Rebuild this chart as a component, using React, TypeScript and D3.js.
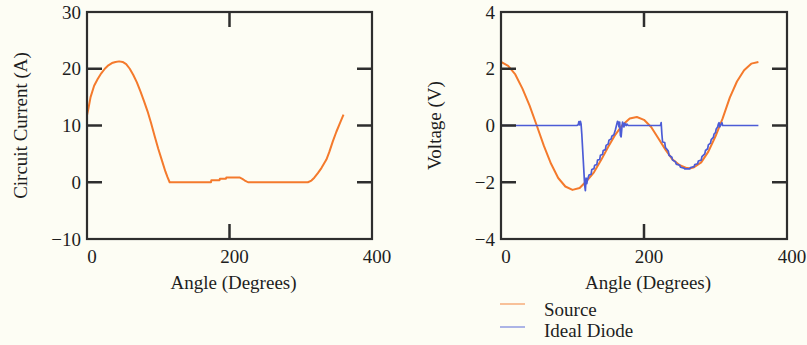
import React from "react";
import * as d3 from "d3";

// ---------- data ----------
const angleTicks = [0, 200, 400];
const currentTicks = [-10, 0, 10, 20, 30];
const voltageTicks = [-4, -2, 0, 2, 4];

const currentAngles = [0, 2, 5, 10, 15, 20, 25, 30, 35, 40, 45, 50, 55, 60, 65, 70, 75, 80, 85, 90, 95, 100, 105, 110, 113, 116, 174, 174.5, 186, 186.5, 195, 195.5, 214, 218, 221, 226, 310, 315, 319, 324, 329, 336, 340, 345, 350, 355, 360];
const currentValues = [11.8, 13, 15, 17, 18.2, 19.2, 20, 20.6, 21, 21.2, 21.3, 21.2, 20.8, 20, 18.9, 17.6, 16, 14.3, 12.5, 10.4, 8.1, 5.9, 3.9, 1.9, 0.9, 0, 0, 0.35, 0.35, 0.6, 0.6, 0.85, 0.85, 0.6, 0.35, 0, 0, 0.3, 0.8, 1.6, 2.5, 4, 5.3, 7.2, 8.9, 10.4, 11.9];

const sourceAngles = [0, 10, 20, 30, 40, 50, 60, 70, 80, 90, 100, 110, 120, 130, 140, 150, 160, 170, 180, 190, 200, 210, 220, 230, 240, 250, 260, 265, 270, 280, 290, 300, 310, 320, 330, 340, 350, 360];
const sourceValues = [2.24, 2.1, 1.8, 1.3, 0.7, 0.0, -0.72, -1.35, -1.85, -2.15, -2.27, -2.2, -1.95, -1.65, -1.22, -0.75, -0.32, 0.02, 0.25, 0.3, 0.2, -0.05, -0.45, -0.85, -1.2, -1.4, -1.5, -1.51, -1.47, -1.3, -0.92, -0.38, 0.25, 0.98, 1.55, 1.95, 2.18, 2.24];

const diodeAngles = [0, 106, 108, 109, 110, 111, 112, 113, 115, 117, 118, 119, 120, 121, 123, 126, 127, 130, 131, 134, 135, 138, 139, 142, 143, 146, 147, 150, 151, 154, 155, 158, 160, 162, 163, 164, 165, 166, 167, 168, 169, 170, 171, 172, 173, 175, 176, 178, 223, 224, 225, 226, 229, 230, 234, 235, 239, 240, 244, 245, 250, 251, 256, 257, 264, 265, 270, 271, 275, 276, 280, 281, 285, 286, 289, 290, 293, 294, 297, 298, 300, 301, 303, 304, 305, 306, 308, 309, 310, 360];
const diodeValues = [0, 0, 0.03, 0.14, 0.02, 0.15, 0.05, -0.3, -1.2, -2.1, -2.3, -1.85, -2.05, -1.9, -1.75, -1.72, -1.55, -1.52, -1.4, -1.38, -1.22, -1.2, -1.05, -1.02, -0.88, -0.85, -0.7, -0.65, -0.52, -0.48, -0.38, -0.32, -0.15, 0.05, 0.15, 0.12, -0.05, 0.12, -0.35, -0.4, -0.1, 0.12, 0.05, -0.05, 0.08, 0.0, 0.05, 0.0, 0, 0.1, -0.3, -0.58, -0.6, -0.78, -0.9, -1.05, -1.12, -1.22, -1.28, -1.36, -1.4, -1.47, -1.5, -1.53, -1.53, -1.48, -1.45, -1.38, -1.35, -1.25, -1.22, -1.1, -1.0, -0.88, -0.82, -0.68, -0.62, -0.5, -0.42, -0.3, -0.25, -0.12, -0.05, 0.05, 0.1, -0.05, 0.05, 0.1, 0.0, 0];

const legendLabels = ["Source", "Ideal Diode"];

// ---------- styles ----------
const ORANGE = "#f47a2c";
const BLUE = "#4c5cd6";
const AXIS = "#2e2e2e";
const TEXT = "#1e1e1e";
const FONT = "'Liberation Serif', 'Times New Roman', serif";
const FS = 19;

type Series = { xs: number[]; ys: number[]; color: string; width: number };

function Panel(props: {
  x0: number; x1: number; y0: number; y1: number;
  yDomain: [number, number]; yTicks: number[]; yLabel: string; yLabelX: number;
  series: Series[];
}) {
  const { x0, x1, y0, y1, yDomain, yTicks, yLabel, yLabelX, series } = props;
  const x = d3.scaleLinear().domain([0, 400]).range([x0, x1]);
  const y = d3.scaleLinear().domain(yDomain).range([y1, y0]);
  const tickLen = 15;
  const fmt = (v: number) => (v < 0 ? "\u2212" + Math.abs(v) : String(v));
  const innerY = yTicks.filter((t) => t !== yDomain[0] && t !== yDomain[1]);
  const innerX = angleTicks.filter((t) => t !== 0 && t !== 400);
  return (
    <g>
      {series.map((s, i) => {
        const pts: [number, number][] = s.xs.map((a, k) => [a, s.ys[k]]);
        const path = d3
          .line<[number, number]>()
          .x((d) => x(d[0]))
          .y((d) => y(d[1]))(pts) as string;
        return (
          <path key={i} d={path} fill="none" stroke={s.color} strokeWidth={s.width} strokeLinejoin="round" />
        );
      })}
      <rect x={x0} y={y0} width={x1 - x0} height={y1 - y0} fill="none" stroke={AXIS} strokeWidth={2.2} />
      {innerY.map((t) => (
        <g key={"yt" + t}>
          <line x1={x0} x2={x0 + tickLen} y1={y(t)} y2={y(t)} stroke={AXIS} strokeWidth={2.5} />
          <line x1={x1 - tickLen} x2={x1} y1={y(t)} y2={y(t)} stroke={AXIS} strokeWidth={2.5} />
        </g>
      ))}
      {innerX.map((t) => (
        <g key={"xt" + t}>
          <line x1={x(t)} x2={x(t)} y1={y0} y2={y0 + tickLen} stroke={AXIS} strokeWidth={2.5} />
          <line x1={x(t)} x2={x(t)} y1={y1 - tickLen} y2={y1} stroke={AXIS} strokeWidth={2.5} />
        </g>
      ))}
      {yTicks.map((t) => (
        <text key={"yl" + t} x={x0 - 6} y={y(t)} dy="0.35em" textAnchor="end" fontSize={FS} fontFamily={FONT} fill={TEXT}>
          {fmt(t)}
        </text>
      ))}
      {angleTicks.map((t) => (
        <text key={"xl" + t} x={x(t) + 5} y={263} textAnchor="middle" fontSize={FS} fontFamily={FONT} fill={TEXT}>
          {fmt(t)}
        </text>
      ))}
      <text x={x(200) + 4} y={289} textAnchor="middle" fontSize={FS} fontFamily={FONT} fill={TEXT}>
        Angle (Degrees)
      </text>
      <text
        transform={`translate(${yLabelX},${(y0 + y1) / 2}) rotate(-90)`}
        textAnchor="middle"
        fontSize={FS}
        fontFamily={FONT}
        fill={TEXT}
      >
        {yLabel}
      </text>
    </g>
  );
}

export default function App() {
  return (
    <svg width={807} height={345} style={{ position: "absolute", left: 0, top: 0, background: "#fdfdf4" }}>
      <rect x={0} y={0} width={807} height={345} fill="#fdfdf4" />
      <Panel
        x0={87} x1={372} y0={12} y1={239}
        yDomain={[-10, 30]} yTicks={currentTicks}
        yLabel="Circuit Current (A)" yLabelX={27}
        series={[{ xs: currentAngles, ys: currentValues, color: ORANGE, width: 2 }]}
      />
      <Panel
        x0={501} x1={787} y0={12} y1={239}
        yDomain={[-4, 4]} yTicks={voltageTicks}
        yLabel="Voltage (V)" yLabelX={441}
        series={[
          { xs: sourceAngles, ys: sourceValues, color: ORANGE, width: 2 },
          { xs: diodeAngles, ys: diodeValues, color: BLUE, width: 1.7 },
        ]}
      />
      {legendLabels.map((lab, i) => (
        <g key={lab}>
          <line x1={500} x2={525} y1={304 + i * 23} y2={304 + i * 23} stroke={i === 0 ? ORANGE : BLUE} strokeWidth={1.3} strokeOpacity={0.7} />
          <text x={544} y={316 + i * 21} fontSize={FS} fontFamily={FONT} fill={TEXT}>
            {lab}
          </text>
        </g>
      ))}
    </svg>
  );
}
